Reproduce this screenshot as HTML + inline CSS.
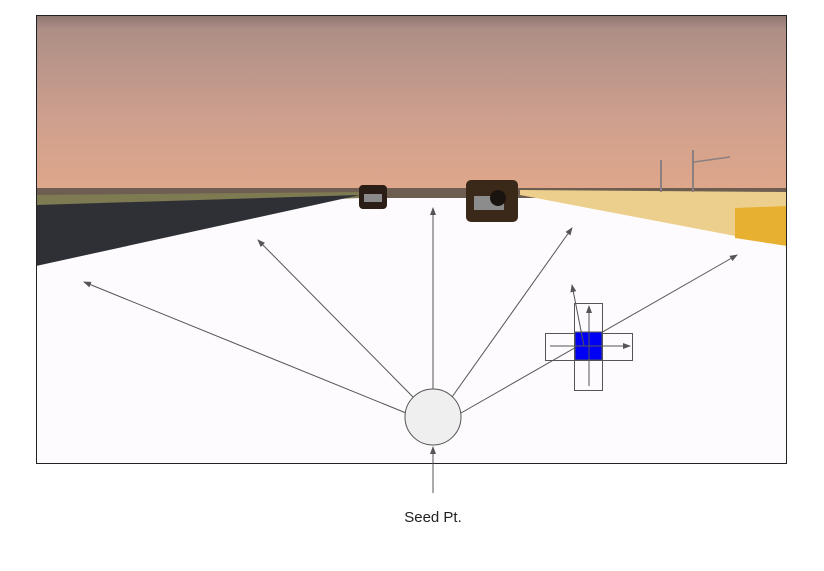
<!DOCTYPE html>
<html><head><meta charset="utf-8"><style>
body{margin:0;background:#fff;width:824px;height:566px;overflow:hidden;font-family:"Liberation Sans",sans-serif}
</style></head><body>
<svg width="824" height="566" viewBox="0 0 824 566" xmlns="http://www.w3.org/2000/svg">
<defs>
<linearGradient id="sky" x1="0" y1="0" x2="0" y2="1">
<stop offset="0" stop-color="#8c7570"/><stop offset="0.08" stop-color="#ad8f86"/><stop offset="0.6" stop-color="#cfa08e"/><stop offset="1" stop-color="#e0a78a"/>
</linearGradient>
<marker id="ah" markerWidth="8" markerHeight="8" refX="7" refY="4" orient="auto" markerUnits="userSpaceOnUse"><path d="M0,1 L8,4 L0,7 z" fill="#555"/></marker>
</defs>
<g>
<rect x="36" y="15" width="751" height="449" fill="#fdfbfd"/>
<rect x="36" y="15" width="751" height="178" fill="url(#sky)"/>
<rect x="36" y="188" width="751" height="10" fill="#6e5e52"/>
<polygon points="36,195 360,192 360,198 36,212" fill="#7e7a52"/>
<polygon points="36,205 360,195 36,266" fill="#2e3036"/>
<polygon points="520,190 787,192 787,246 730,235 520,195" fill="#eccf8c"/>
<polygon points="735,208 787,206 787,246 735,238" fill="#e8b030"/>
<rect x="660" y="160" width="2" height="32" fill="#8a8080"/>
<rect x="692" y="150" width="2" height="42" fill="#8a8080"/>
<line x1="694" y1="162" x2="730" y2="157" stroke="#8a8080" stroke-width="1.5"/>
<g><rect x="359" y="185" width="28" height="24" rx="4" fill="#2a1e16"/><rect x="364" y="194" width="18" height="8" fill="#8a8a8a"/></g>
<g><rect x="466" y="180" width="52" height="42" rx="5" fill="#3a2818"/><rect x="474" y="196" width="30" height="14" fill="#8c8c8c"/><circle cx="498" cy="198" r="8" fill="#1a1410"/></g>
<rect x="36.5" y="15.5" width="750" height="448" fill="none" stroke="#222" stroke-width="1"/>
</g>
<g stroke="#555" stroke-width="1" fill="none">
<line x1="406" y1="413" x2="84" y2="282" marker-end="url(#ah)"/>
<line x1="413" y1="397" x2="258" y2="240" marker-end="url(#ah)"/>
<line x1="433" y1="389" x2="433" y2="208" marker-end="url(#ah)"/>
<line x1="452" y1="397" x2="572" y2="228" marker-end="url(#ah)"/>
<line x1="461" y1="413" x2="737" y2="255" marker-end="url(#ah)"/>
<line x1="433" y1="493" x2="433" y2="447" marker-end="url(#ah)"/>
</g>
<circle cx="433" cy="417" r="28" fill="#efefef" stroke="#555" stroke-width="1"/>
<g>
<rect x="574.5" y="303.5" width="28" height="87" fill="none" stroke="#555"/>
<rect x="545.5" y="333.5" width="87" height="27" fill="none" stroke="#555"/>
<rect x="575" y="332" width="27" height="28" fill="#0000f5" stroke="#555"/>
<g stroke="#555" fill="none">
<line x1="589" y1="386" x2="589" y2="306" marker-end="url(#ah)"/>
<line x1="550" y1="346" x2="630" y2="346" marker-end="url(#ah)"/>
<line x1="584" y1="346" x2="572" y2="285" marker-end="url(#ah)"/>
</g>
</g>
<text x="433" y="522" text-anchor="middle" font-size="15" fill="#222">Seed Pt.</text>
</svg>
</body></html>
